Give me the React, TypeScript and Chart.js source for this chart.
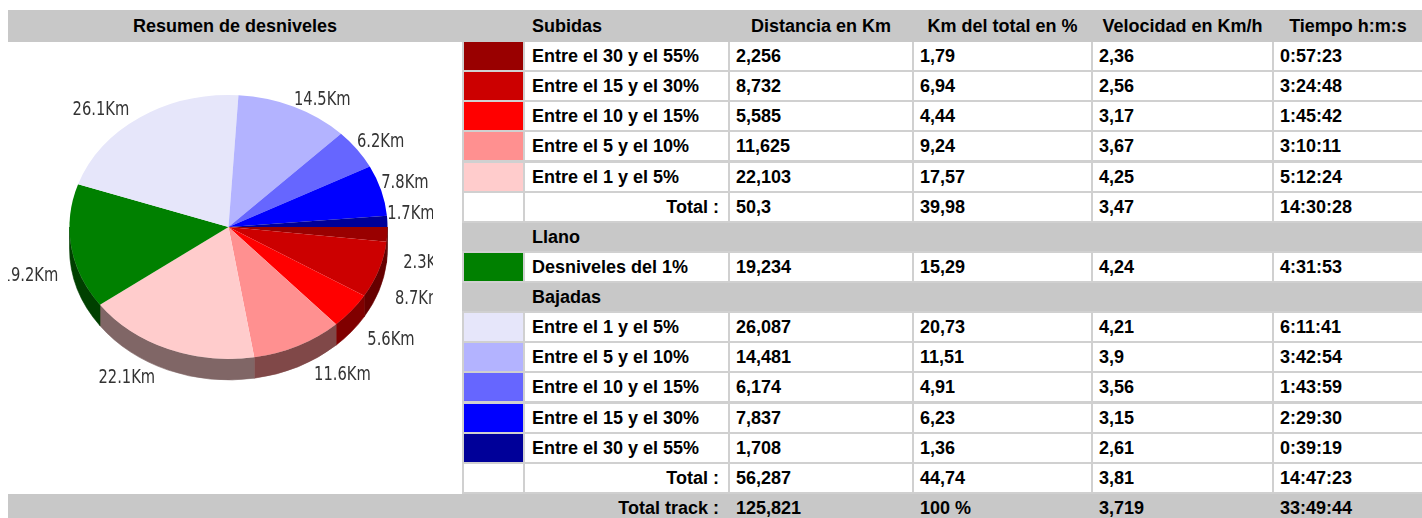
import React, { useEffect, useRef } from "react";
import { Chart, registerables } from "chart.js";

Chart.register(...registerables);

// ---------- data ----------
const headerCols = ["Distancia en Km", "Km del total en %", "Velocidad en Km/h", "Tiempo h:m:s"];

const subidasLabels = ["Entre el 30 y el 55%", "Entre el 15 y el 30%", "Entre el 10 y el 15%", "Entre el 5 y el 10%", "Entre el 1 y el 5%"];
const subidasDist = [2.256, 8.732, 5.585, 11.625, 22.103];
const subidasPct = ["1,79", "6,94", "4,44", "9,24", "17,57"];
const subidasVel = ["2,36", "2,56", "3,17", "3,67", "4,25"];
const subidasTime = ["0:57:23", "3:24:48", "1:45:42", "3:10:11", "5:12:24"];
const subidasColors = ["#990000", "#cc0000", "#ff0000", "#ff9090", "#ffcccc"];
const subidasTotal = ["50,3", "39,98", "3,47", "14:30:28"];

const llanoLabels = ["Desniveles del 1%"];
const llanoDist = [19.234];
const llanoPct = ["15,29"];
const llanoVel = ["4,24"];
const llanoTime = ["4:31:53"];
const llanoColors = ["#008000"];

const bajadasLabels = ["Entre el 1 y el 5%", "Entre el 5 y el 10%", "Entre el 10 y el 15%", "Entre el 15 y el 30%", "Entre el 30 y el 55%"];
const bajadasDist = [26.087, 14.481, 6.174, 7.837, 1.708];
const bajadasPct = ["20,73", "11,51", "4,91", "6,23", "1,36"];
const bajadasVel = ["4,21", "3,9", "3,56", "3,15", "2,61"];
const bajadasTime = ["6:11:41", "3:42:54", "1:43:59", "2:29:30", "0:39:19"];
const bajadasColors = ["#e6e6fa", "#b3b3ff", "#6666ff", "#0000ff", "#000099"];
const bajadasTotal = ["56,287", "44,74", "3,81", "14:47:23"];

const trackTotal = ["125,821", "100 %", "3,719", "33:49:44"];

// ---------- helpers ----------
const fmt = (v: number) => String(v).replace(".", ",");
const darken = (hex: string, f: number) => {
  const n = parseInt(hex.slice(1), 16);
  const r = Math.round(((n >> 16) & 255) * f);
  const g = Math.round(((n >> 8) & 255) * f);
  const b = Math.round((n & 255) * f);
  return `rgb(${r},${g},${b})`;
};

const SY = 0.83;
const DEPTH = 21;

const pie3d = {
  id: "pie3d",
  beforeDatasetsDraw(chart: any) {
    const ctx = chart.ctx;
    const meta = chart.getDatasetMeta(0);
    const arcs = meta.data;
    if (!arcs.length) return;
    const { x: cx, y: cy, outerRadius: r } = arcs[0].getProps(["x", "y", "outerRadius"], true);
    const colors = chart.data.datasets[0].backgroundColor as string[];
    ctx.save();
    arcs.forEach((arc: any, i: number) => {
      const { startAngle, endAngle } = arc.getProps(["startAngle", "endAngle"], true);
      const s = Math.max(startAngle, 0);
      const e = Math.min(endAngle, Math.PI);
      if (s < e) {
        ctx.beginPath();
        ctx.ellipse(cx, cy, r, r * SY, 0, s, e, false);
        ctx.ellipse(cx, cy + DEPTH, r, r * SY, 0, e, s, true);
        ctx.closePath();
        ctx.fillStyle = darken(colors[i], 0.5);
        ctx.fill();
        ctx.strokeStyle = darken(colors[i], 0.5);
        ctx.lineWidth = 0.6;
        ctx.stroke();
      }
    });
    ctx.translate(cx, cy);
    ctx.scale(1, SY);
    ctx.translate(-cx, -cy);
  },
  afterDatasetsDraw(chart: any) {
    const ctx = chart.ctx;
    ctx.restore();
    const meta = chart.getDatasetMeta(0);
    const arcs = meta.data;
    const values = chart.data.datasets[0].data as number[];
    ctx.save();
    ctx.font = '19px "DejaVu Sans Condensed", "DejaVu Sans"';
    ctx.fillStyle = "#333333";
    ctx.textBaseline = "middle";
    arcs.forEach((arc: any, i: number) => {
      const { x: cx, y: cy, outerRadius: r, startAngle, endAngle } = arc.getProps(
        ["x", "y", "outerRadius", "startAngle", "endAngle"],
        true
      );
      const m = (startAngle + endAngle) / 2;
      const c = Math.cos(m);
      const s = Math.sin(m);
      const ex = cx + c * r;
      const ey = cy + s * r * SY;
      let x: number, y: number;
      if (s < 0) {
        x = ex + (c < 0 ? -11 : 0);
        y = ey - 7;
      } else {
        x = ex + (c < 0 ? -13 : 16);
        y = ey + 29;
      }
      ctx.save();
      ctx.translate(x, y);
      ctx.scale(0.86, 1);
      ctx.textAlign = c < 0 ? "right" : "left";
      ctx.fillText(values[i].toFixed(1) + "Km", 0, 0);
      ctx.restore();
    });
    ctx.restore();
  },
};

function PieCanvas() {
  const ref = useRef<HTMLCanvasElement | null>(null);
  useEffect(() => {
    if (!ref.current) return;
    const chart = new Chart(ref.current, {
      type: "pie",
      data: {
        labels: [...subidasLabels, ...llanoLabels, ...bajadasLabels],
        datasets: [
          {
            data: [...subidasDist, ...llanoDist, ...bajadasDist],
            backgroundColor: [...subidasColors, ...llanoColors, ...bajadasColors],
            borderWidth: 0,
          },
        ],
      },
      options: {
        animation: false,
        responsive: false,
        rotation: 90,
        events: [],
        layout: { padding: { left: 61.5, right: 45.5, top: 26, bottom: 106 } },
        plugins: { legend: { display: false }, tooltip: { enabled: false } },
      },
      plugins: [pie3d as any],
    });
    return () => chart.destroy();
  }, []);
  return (
    <canvas
      ref={ref}
      width={425}
      height={450}
      style={{ position: "absolute", left: 8, top: 42, width: 425, height: 450 }}
    />
  );
}

const FONT = 'bold 18px "Liberation Sans", Arial, sans-serif';
const LINE = "#d0d0d0";
const GRAY = "#c8c8c8";
const cols: [number, number][] = [
  [464, 59],
  [525, 203],
  [730, 182],
  [914, 177],
  [1093, 179],
  [1274, 148],
];
const rowTop = (i: number) => Math.round(42 + i * 30.13);
const ROW_H = 28;

function Cell(props: { x: number; y: number; w: number; h: number; bg?: string; align?: string; pad?: number; children?: any }) {
  const { x, y, w, h, bg = "#fff", align = "left", pad = 6, children } = props;
  return (
    <div
      style={{
        position: "absolute",
        left: x,
        top: y,
        width: w,
        height: h,
        background: bg,
        font: FONT,
        lineHeight: h + "px",
        color: "#000",
        textAlign: align as any,
        paddingLeft: align === "left" ? pad : 0,
        paddingRight: align === "right" ? pad : 0,
        boxSizing: "border-box",
        whiteSpace: "nowrap",
        overflow: "hidden",
      }}
    >
      {children}
    </div>
  );
}

function DataRow(props: { i: number; color: string | null; label: string; vals: string[]; total?: boolean }) {
  const { i, color, label, vals, total } = props;
  const y = rowTop(i);
  return (
    <>
      <Cell x={cols[0][0]} y={y} w={cols[0][1]} h={ROW_H} bg={color || "#fff"} />
      <Cell x={cols[1][0]} y={y} w={cols[1][1]} h={ROW_H} align={total ? "right" : "left"} pad={total ? 9 : 7}>
        {label}
      </Cell>
      {vals.map((v, k) => (
        <Cell key={k} x={cols[k + 2][0]} y={y} w={cols[k + 2][1]} h={ROW_H}>
          {v}
        </Cell>
      ))}
    </>
  );
}

export default function App() {
  const rows: any[] = [];
  subidasLabels.forEach((l, k) => {
    rows.push(
      <DataRow key={"s" + k} i={k} color={subidasColors[k]} label={l} vals={[fmt(subidasDist[k]), subidasPct[k], subidasVel[k], subidasTime[k]]} />
    );
  });
  rows.push(<DataRow key="st" i={5} color={null} label="Total :" vals={subidasTotal} total />);
  rows.push(
    <Cell key="llh" x={462} y={rowTop(6)} w={960} h={ROW_H} bg={GRAY} pad={70}>
      Llano
    </Cell>
  );
  llanoLabels.forEach((l, k) => {
    rows.push(<DataRow key={"l" + k} i={7 + k} color={llanoColors[k]} label={l} vals={[fmt(llanoDist[k]), llanoPct[k], llanoVel[k], llanoTime[k]]} />);
  });
  rows.push(
    <Cell key="bjh" x={462} y={rowTop(8)} w={960} h={ROW_H} bg={GRAY} pad={70}>
      Bajadas
    </Cell>
  );
  bajadasLabels.forEach((l, k) => {
    rows.push(
      <DataRow key={"b" + k} i={9 + k} color={bajadasColors[k]} label={l} vals={[fmt(bajadasDist[k]), bajadasPct[k], bajadasVel[k], bajadasTime[k]]} />
    );
  });
  rows.push(<DataRow key="bt" i={14} color={null} label="Total :" vals={bajadasTotal} total />);

  const ttTop = rowTop(15);
  return (
    <div style={{ position: "absolute", left: 0, top: 0, width: 1422, height: 518, overflow: "hidden", background: "#fff" }}>
      {/* header */}
      <div style={{ position: "absolute", left: 8, top: 10, width: 1414, height: 32, background: GRAY }} />
      <Cell x={8} y={10} w={454} h={32} bg={GRAY} align="center">
        Resumen de desniveles
      </Cell>
      <Cell x={cols[1][0]} y={10} w={cols[1][1]} h={32} bg={GRAY} pad={7}>
        Subidas
      </Cell>
      {headerCols.map((h, k) => (
        <Cell key={"h" + k} x={cols[k + 2][0]} y={10} w={cols[k + 2][1]} h={32} bg={GRAY} align="center">
          {h}
        </Cell>
      ))}
      {/* grid lines background */}
      <div style={{ position: "absolute", left: 462, top: 42, width: 960, height: ttTop - 42, background: LINE }} />
      {/* pie cell */}
      <div style={{ position: "absolute", left: 8, top: 42, width: 454, height: ttTop - 44, background: "#fff" }} />
      <PieCanvas />
      {rows}
      {/* total track */}
      <div style={{ position: "absolute", left: 8, top: ttTop, width: 1414, height: 30, background: GRAY }} />
      <Cell x={cols[1][0]} y={ttTop} w={cols[1][1]} h={ROW_H} bg={GRAY} align="right" pad={9}>
        Total track :
      </Cell>
      {trackTotal.map((v, k) => (
        <Cell key={"tt" + k} x={cols[k + 2][0]} y={ttTop} w={cols[k + 2][1]} h={ROW_H} bg={GRAY}>
          {v}
        </Cell>
      ))}
    </div>
  );
}
